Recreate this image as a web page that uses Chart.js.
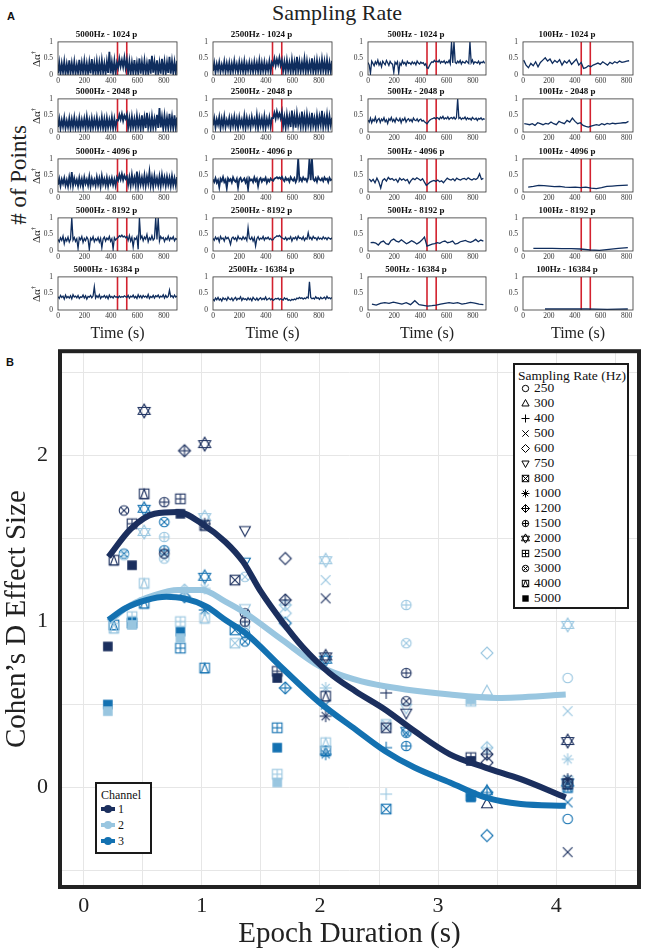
<!DOCTYPE html>
<html lang="en">
<head>
<meta charset="UTF-8">
<title>Sampling rate and epoch duration</title>
<script src="https://cdn.jsdelivr.net/npm/chart.js"></script>
<style>
  body { margin: 0; background: #fff; }
  #fig { position: relative; width: 645px; height: 952px; overflow: hidden; background: #fff;
         font-family: "Liberation Serif", "DejaVu Serif", serif; color: #222; }
  #fig canvas { position: absolute; }
  .lbl { position: absolute; white-space: nowrap; line-height: 1; }
  .ctr { transform: translate(-50%, -50%); }
  .rot { transform: translate(-50%, -50%) rotate(-90deg); }
  .panel { font-family: "Liberation Sans", Arial, sans-serif; font-weight: bold; font-size: 11px; color: #111; }
  .legend { position: absolute; background: #fff; border: 2px solid #1a1a1a; box-sizing: border-box; }
  .legend .lbl { color: #111; }
  sup { font-size: 0.6em; }
</style>
</head>
<body>
<div id="fig">
  <div class="lbl panel ctr" style="left:11px;top:16px">A</div>
  <div class="lbl panel ctr" style="left:10px;top:362px">B</div>
  <div class="lbl ctr" style="left:337px;top:13px;font-size:22px">Sampling Rate</div>
  <div class="lbl rot" style="left:18px;top:175px;font-size:23px"># of Points</div>
  <div class="legend" id="rateLegend" style="left:513px;top:363px;width:116px;height:246px"></div>
  <div class="legend" id="chanLegend" style="left:95px;top:782px;width:57px;height:72px"></div>
</div>

<script>
// ---------- panel A: time series of delta alpha ----------
const panelRates = ['5000Hz', '2500Hz', '500Hz', '100Hz'];
const panelPoints = [1024, 2048, 4096, 8192, 16384];
const eventEdges = [450, 520];
const timeTicks = [0, 200, 400, 600, 800];
const alphaTicks = [0, 0.5, 1];

const s5000_1024 = [0.05,0.38,0.04,0.35,0.08,0.41,0.03,0.33,0.06,0.44,0.05,0.36,0.07,0.40,0.04,0.31,0.06,0.46,0.05,0.37,0.08,0.42,0.04,0.35,0.06,0.39,0.05,0.48,0.07,0.36,0.04,0.41,0.06,0.38,0.05,0.44,0.08,0.35,0.04,0.40,0.06,0.70,0.05,0.39,0.07,0.43,0.05,0.37,0.22,0.49,0.26,0.45,0.24,0.52,0.21,0.46,0.06,0.41,0.04,0.38,0.07,0.45,0.05,0.36,0.06,0.50,0.04,0.39,0.08,0.43,0.05,0.35,0.06,0.47,0.04,0.58,0.07,0.40,0.05,0.44,0.06,0.37,0.04,0.49,0.08,0.41,0.05,0.38,0.06,0.55,0.04,0.42,0.07,0.39,0.05,0.43];
const s2500_1024 = [0.12,0.36,0.08,0.33,0.14,0.38,0.10,0.31,0.13,0.40,0.09,0.35,0.12,0.37,0.07,0.34,0.11,0.42,0.13,0.33,0.09,0.39,0.12,0.36,0.10,0.41,0.08,0.34,0.13,0.38,0.11,0.35,0.09,0.40,0.12,0.36,0.10,0.43,0.08,0.37,0.12,0.39,0.10,0.34,0.13,0.41,0.09,0.38,0.30,0.50,0.28,0.47,0.32,0.52,0.29,0.45,0.12,0.40,0.10,0.44,0.13,0.37,0.09,0.46,0.11,0.39,0.08,0.55,0.12,0.41,0.10,0.38,0.13,0.48,0.09,0.42,0.11,0.37,0.12,0.50,0.10,0.40,0.08,0.44,0.12,0.39,0.10,0.47,0.13,0.41,0.09,0.45,0.11,0.38,0.10,0.43];
const s500_1024 = [0.38,0.30,0.05,0.42,0.35,0.28,0.40,0.33,0.45,0.30,0.38,0.25,0.42,0.36,0.31,0.44,0.37,0.29,0.41,0.35,0.33,0.08,0.39,0.33,0.40,0.06,0.36,0.30,0.43,0.34,0.38,0.29,0.41,0.35,0.37,0.32,0.40,0.34,0.38,0.31,0.42,0.36,0.33,0.39,0.35,0.37,0.30,0.34,0.22,0.20,0.28,0.35,0.40,0.38,0.44,0.40,0.42,0.39,0.45,0.36,0.41,0.38,0.43,0.35,0.40,0.37,0.44,0.34,1.00,0.36,1.00,0.38,0.35,0.42,0.37,0.44,0.33,0.41,0.38,0.36,0.43,0.39,0.35,1.00,0.37,0.45,0.34,0.40,0.38,0.36,0.42,0.33,0.39,0.37,0.41,0.35];
const s100_1024 = [0.45,0.30,0.22,0.35,0.28,0.40,0.25,0.38,0.45,0.52,0.42,0.48,0.35,0.44,0.38,0.46,0.30,0.42,0.36,0.45,0.32,0.40,0.48,0.30,0.38,0.20,0.22,0.28,0.25,0.30,0.33,0.36,0.32,0.40,0.35,0.30,0.38,0.34,0.40,0.36,0.42,0.38,0.40,0.42,0.43];

const s5000_2048 = [0.15,0.40,0.11,0.36,0.16,0.43,0.12,0.34,0.14,0.41,0.10,0.38,0.15,0.44,0.12,0.35,0.13,0.42,0.11,0.37,0.16,0.40,0.12,0.46,0.14,0.36,0.10,0.41,0.13,0.38,0.15,0.43,0.11,0.35,0.14,0.45,0.12,0.39,0.10,0.42,0.13,0.37,0.15,0.44,0.11,0.40,0.14,0.36,0.35,0.52,0.38,0.55,0.34,0.50,0.40,0.53,0.13,0.42,0.11,0.46,0.14,0.39,0.12,0.48,0.15,0.41,0.10,0.50,0.13,0.44,0.12,0.58,0.14,0.42,0.11,0.47,0.13,0.40,0.15,0.52,0.12,0.72,0.14,0.45,0.10,0.49,0.13,0.43,0.12,0.55,0.14,0.46,0.11,0.50,0.13,0.44];
const s2500_2048 = [0.20,0.42,0.14,0.38,0.22,0.45,0.12,0.40,0.18,0.47,0.15,0.36,0.21,0.43,0.13,0.41,0.19,0.46,0.16,0.39,0.12,0.44,0.20,0.37,0.15,0.48,0.13,0.42,0.18,0.40,0.14,0.45,0.21,0.38,0.16,0.50,0.12,0.43,0.19,0.41,0.15,0.47,0.13,0.39,0.20,0.44,0.16,0.42,0.42,0.58,0.40,0.62,0.44,0.56,0.41,0.60,0.18,0.45,0.14,0.52,0.20,0.46,0.15,0.65,0.19,0.48,0.13,0.55,0.21,0.44,0.16,0.62,0.18,0.47,0.14,0.53,0.20,0.45,0.15,0.58,0.19,0.42,0.13,0.50,0.17,0.46,0.21,0.64,0.15,0.44,0.18,0.52,0.14,0.47,0.20,0.43];
const s500_2048 = [0.36,0.30,0.42,0.28,0.38,0.33,0.45,0.30,0.37,0.41,0.29,0.39,0.34,0.43,0.31,0.37,0.26,0.40,0.35,0.44,0.32,0.38,0.30,0.42,0.36,0.33,0.41,0.28,0.39,0.35,0.43,0.30,0.37,0.40,0.33,0.38,0.31,0.42,0.36,0.34,0.40,0.32,0.37,0.39,0.33,0.35,0.31,0.28,0.25,0.30,0.35,0.38,0.40,0.41,0.43,0.40,0.44,0.42,0.38,0.45,0.41,0.47,0.39,0.43,0.40,0.46,0.38,0.42,0.44,0.40,0.45,0.39,0.43,1.00,0.41,0.44,0.38,0.42,0.40,0.45,0.37,0.43,0.39,0.41,0.36,0.44,0.40,0.38,0.42,0.35,0.41,0.39,0.43,0.37,0.40,0.38];
const s100_2048 = [0.25,0.24,0.22,0.25,0.20,0.28,0.25,0.22,0.26,0.24,0.30,0.25,0.22,0.32,0.28,0.25,0.35,0.30,0.42,0.32,0.25,0.28,0.20,0.17,0.15,0.18,0.20,0.22,0.20,0.25,0.22,0.26,0.24,0.27,0.25,0.26,0.27,0.28,0.28,0.32];

const s5000_4096 = [0.22,0.40,0.18,0.38,0.25,0.42,0.20,0.36,0.17,0.45,0.23,0.60,0.19,0.41,0.24,0.37,0.18,0.43,0.21,0.39,0.16,0.44,0.25,0.38,0.20,0.46,0.18,0.40,0.23,0.37,0.19,0.45,0.22,0.41,0.17,0.48,0.24,0.39,0.20,0.43,0.18,0.40,0.25,0.42,0.21,0.38,0.19,0.44,0.35,0.52,0.38,0.55,0.36,0.50,0.40,0.47,0.22,0.45,0.19,0.52,0.24,0.43,0.20,0.62,0.18,0.48,0.23,0.44,0.21,0.50,0.19,0.46,0.25,0.60,0.20,0.45,0.17,0.49,0.23,0.42,0.20,0.47,0.18,0.51,0.24,0.44,0.19,0.46,0.22,0.43,0.18,0.48,0.21,0.42,0.20,0.45];
const s2500_4096 = [0.38,0.30,0.42,0.28,0.36,0.15,0.40,0.33,0.45,0.30,0.37,0.12,0.41,0.34,0.39,0.29,0.44,0.35,0.31,0.40,0.14,0.38,0.43,0.32,0.36,0.41,0.29,0.39,0.10,0.42,0.35,0.38,0.30,0.44,0.33,0.40,0.18,0.37,0.42,0.31,0.39,0.35,0.43,0.28,0.38,0.32,0.41,0.36,0.34,0.40,0.42,0.45,0.41,0.44,0.40,0.46,0.38,0.33,0.43,0.36,0.40,0.31,0.45,0.38,0.34,0.42,0.30,0.39,1.00,0.35,0.41,0.33,0.44,0.37,0.40,0.32,0.43,1.00,0.36,1.00,0.39,0.34,0.42,0.31,0.45,0.38,0.35,0.41,0.33,0.44,0.37,0.40,0.30,0.43,0.36,0.39];
const s500_4096 = [0.40,0.32,0.38,0.28,0.42,0.30,0.12,0.35,0.40,0.33,0.44,0.38,0.41,0.35,0.39,0.30,0.42,0.36,0.40,0.34,0.38,0.26,0.35,0.41,0.37,0.43,0.39,0.35,0.40,0.30,0.20,0.25,0.30,0.33,0.35,0.32,0.36,0.31,0.34,0.28,0.35,0.42,0.38,0.36,0.40,0.34,0.42,0.38,0.36,0.40,0.41,0.37,0.43,0.39,0.36,0.40,0.38,0.42,0.55,0.38,0.41];
const s100_4096 = [0.15,0.17,0.20,0.19,0.18,0.16,0.17,0.15,0.14,0.15,0.13,0.15,0.12,0.10,0.13,0.17,0.18,0.19,0.20,0.21];

const s5000_8192 = [0.35,0.28,0.40,0.32,0.45,0.22,0.38,0.30,0.42,0.27,0.36,1.00,0.33,0.41,0.29,0.37,0.08,0.40,0.34,0.44,0.26,0.38,0.31,0.42,0.35,0.05,0.39,0.33,0.43,0.28,0.37,0.32,0.41,0.27,0.38,0.10,0.36,0.42,0.30,0.39,0.34,0.44,0.29,0.37,0.06,0.40,0.33,0.38,0.41,0.46,0.43,0.48,0.42,0.45,0.40,0.44,0.32,0.47,0.30,0.41,0.12,0.39,0.35,0.43,0.05,1.00,0.38,0.45,0.31,0.42,0.36,0.50,0.28,0.40,0.34,0.46,0.33,0.38,1.00,0.35,1.00,0.30,0.44,0.37,0.41,0.29,0.39,0.34,0.45,0.32,0.40,0.36,0.43,0.31,0.38,0.35];
const s2500_8192 = [0.38,0.32,0.42,0.35,0.40,0.28,0.44,0.36,0.39,0.30,0.43,0.37,0.41,0.33,0.20,0.38,0.42,0.35,0.40,0.31,0.45,0.37,0.39,0.34,0.43,0.36,0.41,0.32,0.70,0.38,0.35,0.42,0.30,0.40,0.15,0.37,0.43,0.34,0.39,0.36,0.44,0.33,0.40,0.37,0.42,0.35,0.38,0.33,0.34,0.40,0.42,0.46,0.44,0.47,0.43,0.40,0.38,0.35,0.41,0.33,0.39,0.36,0.43,0.30,0.40,0.37,0.42,0.34,0.45,0.38,0.40,0.35,0.43,0.32,0.39,0.36,0.55,0.37,0.41,0.34,0.44,0.38,0.40,0.33,0.42,0.36,0.39,0.35,0.43,0.37,0.40,0.34,0.41,0.38,0.36,0.40];
const s500_8192 = [0.25,0.26,0.24,0.18,0.27,0.30,0.22,0.20,0.32,0.36,0.30,0.27,0.34,0.28,0.22,0.26,0.31,0.27,0.21,0.26,0.33,0.42,0.15,0.18,0.21,0.22,0.25,0.23,0.28,0.30,0.25,0.27,0.30,0.21,0.23,0.28,0.30,0.32,0.28,0.26,0.30,0.35,0.28,0.33,0.30];
const s100_8192 = [0.08,0.08,0.08,0.07,0.07,0.06,0.03,0.02,0.05,0.08,0.10];

const s5000_16384 = [0.40,0.35,0.44,0.38,0.42,0.33,0.45,0.37,0.41,0.36,0.43,0.34,0.46,0.39,0.42,0.37,0.44,0.35,0.40,0.38,0.45,0.36,0.43,0.33,0.41,0.39,0.44,0.37,0.42,0.70,0.36,0.43,0.38,0.46,0.35,0.41,0.39,0.44,0.37,0.42,0.34,0.45,0.38,0.41,0.36,0.43,0.39,0.40,0.37,0.42,0.38,0.41,0.39,0.43,0.40,0.38,0.44,0.36,0.42,0.39,0.45,0.37,0.41,0.35,0.46,0.38,0.43,0.36,0.44,0.39,0.42,0.37,0.47,0.35,0.41,0.38,0.44,0.36,0.43,0.40,0.45,0.37,0.42,0.39,0.46,0.36,0.44,0.38,0.41,0.60,0.40,0.43,0.37,0.45,0.39,0.42];
const s2500_16384 = [0.33,0.28,0.36,0.31,0.38,0.30,0.34,0.27,0.37,0.32,0.35,0.29,0.39,0.33,0.31,0.36,0.28,0.34,0.38,0.30,0.35,0.33,0.40,0.29,0.36,0.32,0.34,0.30,0.37,0.31,0.35,0.28,0.38,0.33,0.30,0.36,0.29,0.34,0.37,0.31,0.35,0.32,0.39,0.30,0.33,0.36,0.31,0.34,0.29,0.32,0.35,0.33,0.36,0.31,0.34,0.32,0.30,0.37,0.33,0.35,0.29,0.31,0.28,0.32,0.30,0.33,0.31,0.36,0.34,0.38,0.35,0.37,0.33,0.36,0.34,0.39,0.36,0.85,0.38,0.34,0.36,0.33,0.40,0.35,0.37,0.32,0.38,0.34,0.36,0.39,0.33,0.41,0.35,0.37,0.34,0.38];
const s500_16384 = [0.18,0.15,0.20,0.22,0.20,0.24,0.21,0.18,0.22,0.16,0.28,0.16,0.14,0.12,0.13,0.15,0.18,0.20,0.22,0.20,0.22,0.18,0.20,0.23,0.21,0.18,0.16];
const s100_16384 = [0.03,0.03,0.03,0.02,0.03];

const seriesGrid = [
  [s5000_1024, s2500_1024, s500_1024, s100_1024],
  [s5000_2048, s2500_2048, s500_2048, s100_2048],
  [s5000_4096, s2500_4096, s500_4096, s100_4096],
  [s5000_8192, s2500_8192, s500_8192, s100_8192],
  [s5000_16384, s2500_16384, s500_16384, s100_16384]
];
// first and last time (s) covered by each series
const seriesSpan = [
  [[0, 900], [0, 900], [0, 890], [5, 820]],
  [[0, 900], [0, 900], [0, 890], [10, 815]],
  [[0, 900], [0, 900], [10, 880], [40, 810]],
  [[0, 900], [0, 900], [20, 880], [80, 810]],
  [[0, 900], [0, 900], [30, 880], [170, 810]]
];

// ---------- panel B: Cohen's d vs epoch duration ----------
const rates = [250, 300, 400, 500, 600, 750, 800, 1000, 1200, 1500, 2000, 2500, 3000, 4000, 5000];
const rateMarkers = ['circle', 'triUp', 'plus', 'cross', 'diamond', 'triDown', 'boxCross', 'asterisk',
                     'diamondPlus', 'circlePlus', 'hexagram', 'boxPlus', 'circleCross', 'boxTri', 'square'];
const channelNames = ['1', '2', '3'];
const xGrid = [0, 0.5, 1, 1.5, 2, 2.5, 3, 3.5, 4, 4.5];
const yGrid = [-0.5, 0, 0.5, 1, 1.5, 2, 2.5];

// [sampling rate, epoch duration (s), effect size]
const ch1Effects = [
  [5000,0.2048,0.85],[5000,0.4096,1.34],[5000,0.8192,1.65],[5000,1.6384,0.66],[5000,3.2768,0.16],
  [4000,0.256,1.37],[4000,0.512,1.77],[4000,1.024,1.58],[4000,2.048,0.55],[4000,4.096,0.02],
  [3000,0.3413,1.67],[3000,0.6827,1.41],[3000,1.3653,1.05],[3000,2.7307,0.52],
  [2500,0.4096,1.59],[2500,0.8192,1.74],[2500,1.6384,0.70],[2500,3.2768,0.18],
  [2000,0.512,2.27],[2000,1.024,2.07],[2000,2.048,0.79],[2000,4.096,0.28],
  [1500,0.6827,1.72],[1500,1.3653,1.00],[1500,2.7307,0.69],
  [1200,0.8533,2.03],[1200,1.7067,1.13],[1200,3.4133,0.20],
  [1000,1.024,1.59],[1000,2.048,0.43],[1000,4.096,0.05],
  [800,1.28,1.25],[800,2.56,0.36],
  [750,1.3653,1.55],[750,2.7307,0.45],
  [600,1.7067,1.38],[600,3.4133,0.15],
  [500,2.048,1.14],[500,4.096,-0.39],
  [400,2.56,0.57],
  [300,3.4133,-0.10],
  [250,4.096,0.03]
];
const ch2Effects = [
  [5000,0.2048,0.46],[5000,0.4096,0.98],[5000,0.8192,0.90],[5000,1.6384,0.03],[5000,3.2768,0.53],
  [4000,0.256,0.96],[4000,0.512,1.23],[4000,1.024,1.02],[4000,2.048,0.27],[4000,4.096,0.04],
  [3000,0.3413,1.40],[3000,0.6827,1.38],[3000,1.3653,1.27],[3000,2.7307,0.87],
  [2500,0.4096,1.03],[2500,0.8192,1.00],[2500,1.6384,0.08],[2500,3.2768,0.52],
  [2000,0.512,1.54],[2000,1.024,1.63],[2000,2.048,1.37],[2000,4.096,0.98],
  [1500,0.6827,1.51],[1500,1.3653,0.97],[1500,2.7307,1.10],
  [1200,0.8533,1.19],[1200,1.7067,1.10],[1200,3.4133,0.24],
  [1000,1.024,1.20],[1000,2.048,0.60],[1000,4.096,0.17],
  [800,1.28,0.87],[800,2.56,0.38],
  [750,1.3653,1.08],[750,2.7307,0.48],
  [600,1.7067,1.05],[600,3.4133,0.81],
  [500,2.048,1.25],[500,4.096,0.46],
  [400,2.56,-0.04],
  [300,3.4133,0.58],
  [250,4.096,0.66]
];
const ch3Effects = [
  [5000,0.2048,0.50],[5000,0.4096,1.00],[5000,0.8192,0.94],[5000,1.6384,0.24],[5000,3.2768,-0.06],
  [4000,0.256,0.98],[4000,0.512,1.11],[4000,1.024,0.72],[4000,2.048,0.22],[4000,4.096,0.00],
  [3000,0.3413,1.41],[3000,0.6827,1.60],[3000,1.3653,0.88],[3000,2.7307,0.33],
  [2500,0.4096,0.99],[2500,0.8192,0.84],[2500,1.6384,0.36],[2500,3.2768,-0.05],
  [2000,0.512,1.68],[2000,1.024,1.27],[2000,2.048,0.77],[2000,4.096,0.03],
  [1500,0.6827,1.43],[1500,1.3653,0.93],[1500,2.7307,0.25],
  [1200,0.8533,1.15],[1200,1.7067,0.60],[1200,3.4133,-0.03],
  [1000,1.024,1.07],[1000,2.048,0.20],[1000,4.096,0.01],
  [800,1.28,0.95],[800,2.56,-0.13],
  [750,1.3653,1.36],[750,2.7307,0.34],
  [600,1.7067,0.99],[600,3.4133,-0.29],
  [500,2.048,0.50],[500,4.096,-0.09],
  [400,2.56,0.24],
  [300,3.4133,-0.02],
  [250,4.096,-0.19]
];

// smoothed trend per channel: [epoch duration, effect size]
const ch1Trend = [[0.21,1.39],[0.4,1.56],[0.6,1.65],[0.8,1.66],[1.0,1.59],[1.2,1.48],[1.35,1.36],[1.5,1.18],[1.68,1.0],[1.85,0.85],[2.08,0.69],[2.3,0.58],[2.55,0.47],[2.8,0.34],[3.1,0.2],[3.4,0.12],[3.7,0.05],[4.08,-0.06]];
const ch2Trend = [[0.21,1.0],[0.4,1.1],[0.6,1.16],[0.8,1.19],[1.0,1.19],[1.2,1.12],[1.37,1.05],[1.68,0.89],[2.0,0.73],[2.3,0.65],[2.55,0.61],[3.1,0.56],[3.5,0.54],[4.08,0.56]];
const ch3Trend = [[0.21,1.01],[0.35,1.08],[0.53,1.13],[0.7,1.15],[0.85,1.14],[1.04,1.09],[1.2,1.01],[1.37,0.93],[1.68,0.72],[2.0,0.51],[2.3,0.35],[2.55,0.22],[2.8,0.12],[3.1,0.03],[3.4,-0.06],[3.7,-0.1],[4.08,-0.11]];

// ---------- styling ----------
const SERIF = '"Liberation Serif", "DejaVu Serif", serif';
const NAVY = '#0f2d5e';
const EVENT_RED = '#d3222f';
const channelColors = ['#1b2f5e', '#99c6e0', '#1371b1'];

Chart.defaults.font.family = SERIF;
const fig = document.getElementById('fig');

// thin box around the small plots
const boxPlugin = {
  id: 'box',
  afterDraw(chart) {
    const { ctx, chartArea: a } = chart;
    ctx.save();
    ctx.strokeStyle = '#333';
    ctx.lineWidth = 0.8;
    ctx.strokeRect(a.left, a.top, a.right - a.left, a.bottom - a.top);
    ctx.restore();
  }
};

// heavy frame round panel B
const framePlugin = {
  id: 'frame',
  afterDraw(chart) {
    const { ctx, chartArea: a } = chart;
    ctx.save();
    ctx.strokeStyle = '#222';
    ctx.lineWidth = 4;
    ctx.strokeRect(a.left, a.top, a.right - a.left, a.bottom - a.top);
    ctx.restore();
  }
};

function addLabel(text, x, y, size, cls) {
  const d = document.createElement('div');
  d.className = 'lbl ' + (cls || 'ctr');
  d.style.left = x + 'px';
  d.style.top = y + 'px';
  d.style.fontSize = size + 'px';
  d.innerHTML = text;
  fig.appendChild(d);
  return d;
}

// small plots grid
const colLeft = [58, 213, 368, 523];
const colWidth = [119, 119, 118, 110];
const colMax = [900, 900, 900, 850];
const rowTop = [42, 99, 159, 218, 277];
const rowHeight = 33;
const ML = 22, MR = 8, MT = 12, MB = 11;

function miniChart(r, c) {
  const cv = document.createElement('canvas');
  const w = colWidth[c] + ML + MR, h = rowHeight + MT + MB;
  cv.width = w; cv.height = h;
  cv.style.left = (colLeft[c] - ML) + 'px';
  cv.style.top = (rowTop[r] - MT) + 'px';
  cv.style.width = w + 'px';
  cv.style.height = h + 'px';
  fig.appendChild(cv);

  const vals = seriesGrid[r][c];
  const [t0, t1] = seriesSpan[r][c];
  const step = (t1 - t0) / (vals.length - 1);
  const pts = vals.map((v, i) => ({ x: t0 + i * step, y: v }));
  const edges = eventEdges.map(t => ({
    data: [{ x: t, y: 0 }, { x: t, y: 1 }],
    borderColor: EVENT_RED, borderWidth: 1.6, pointRadius: 0
  }));
  // the fast-rate short-epoch traces read as a solid band
  const band = c < 2 && r < 3;

  new Chart(cv, {
    type: 'line',
    data: {
      datasets: [
        { data: pts, borderColor: NAVY, borderWidth: band ? 1.8 : 1.3, pointRadius: 0, tension: 0 },
        ...edges
      ]
    },
    options: {
      responsive: false,
      animation: false,
      events: [],
      layout: { padding: { left: 0, right: MR, top: 0, bottom: 0 } },
      plugins: {
        legend: { display: false },
        tooltip: { enabled: false },
        title: {
          display: true,
          text: panelRates[c] + ' - ' + panelPoints[r] + ' p',
          color: '#111',
          font: { family: SERIF, size: 9, weight: 'bold', lineHeight: 1.1 },
          padding: { top: 0, bottom: 2 }
        }
      },
      scales: {
        x: {
          type: 'linear', min: 0, max: colMax[c],
          afterBuildTicks: s => { s.ticks = timeTicks.map(v => ({ value: v })); },
          afterFit: s => { s.height = MB; },
          ticks: { font: { family: SERIF, size: 7.5 }, color: '#333', padding: 2, maxRotation: 0, autoSkip: false },
          grid: { display: false, drawTicks: false },
          border: { display: false }
        },
        y: {
          min: 0, max: 1,
          afterBuildTicks: s => { s.ticks = alphaTicks.map(v => ({ value: v })); },
          afterFit: s => { s.width = ML; },
          ticks: { font: { family: SERIF, size: 7.5 }, color: '#333', padding: 5, callback: v => String(v) },
          grid: { display: false, drawTicks: false },
          border: { display: false }
        }
      }
    },
    plugins: [boxPlugin]
  });
}

for (let r = 0; r < panelPoints.length; r++) {
  for (let c = 0; c < panelRates.length; c++) miniChart(r, c);
  addLabel('Δα<sup>†</sup>', 36, rowTop[r] + rowHeight / 2, 11, 'rot');
}
colLeft.forEach((x, c) => addLabel('Time (s)', x + colWidth[c] / 2, 333, 16));

// ---------- marker icons ----------
function makeIcon(shape, color, r, lw) {
  const S = Math.ceil(r * 2.4 + lw + 4);
  const cv = document.createElement('canvas');
  cv.width = S; cv.height = S;
  const g = cv.getContext('2d');
  g.translate(S / 2, S / 2);
  g.strokeStyle = color; g.fillStyle = color; g.lineWidth = lw;
  const poly = p => { g.beginPath(); p.forEach(([x, y], i) => i ? g.lineTo(x, y) : g.moveTo(x, y)); g.closePath(); g.stroke(); };
  const seg = (x1, y1, x2, y2) => { g.beginPath(); g.moveTo(x1, y1); g.lineTo(x2, y2); g.stroke(); };
  const ring = rr => { g.beginPath(); g.arc(0, 0, rr, 0, Math.PI * 2); g.stroke(); };
  const b = r * 0.8;
  const c = r * 0.8 * 0.7;
  switch (shape) {
    case 'circle': ring(r * 0.8); break;
    case 'triUp': poly([[0, -r], [r * 0.9, r * 0.62], [-r * 0.9, r * 0.62]]); break;
    case 'triDown': poly([[0, r], [r * 0.9, -r * 0.62], [-r * 0.9, -r * 0.62]]); break;
    case 'plus': seg(-r, 0, r, 0); seg(0, -r, 0, r); break;
    case 'cross': seg(-b, -b, b, b); seg(-b, b, b, -b); break;
    case 'diamond': poly([[0, -r], [r, 0], [0, r], [-r, 0]]); break;
    case 'boxCross': g.strokeRect(-b, -b, 2 * b, 2 * b); seg(-b, -b, b, b); seg(-b, b, b, -b); break;
    case 'asterisk': seg(-r, 0, r, 0); seg(0, -r, 0, r); seg(-c * 1.2, -c * 1.2, c * 1.2, c * 1.2); seg(-c * 1.2, c * 1.2, c * 1.2, -c * 1.2); break;
    case 'diamondPlus': poly([[0, -r], [r, 0], [0, r], [-r, 0]]); seg(-r, 0, r, 0); seg(0, -r, 0, r); break;
    case 'circlePlus': ring(r * 0.8); seg(-r * 0.8, 0, r * 0.8, 0); seg(0, -r * 0.8, 0, r * 0.8); break;
    case 'circleCross': ring(r * 0.8); seg(-c, -c, c, c); seg(-c, c, c, -c); break;
    case 'hexagram': {
      const h = r * 1.15;
      poly([[0, -h], [h * 0.87, h * 0.5], [-h * 0.87, h * 0.5]]);
      poly([[0, h], [h * 0.87, -h * 0.5], [-h * 0.87, -h * 0.5]]);
      break;
    }
    case 'boxPlus': g.strokeRect(-b, -b, 2 * b, 2 * b); seg(-b, 0, b, 0); seg(0, -b, 0, b); break;
    case 'boxTri': g.strokeRect(-b, -b, 2 * b, 2 * b); poly([[0, -b], [b * 0.75, b], [-b * 0.75, b]]); break;
    case 'square': g.fillRect(-b, -b, 2 * b, 2 * b); break;
  }
  return cv;
}

const plotIcons = channelColors.map(col => {
  const m = {};
  rates.forEach((rate, i) => { m[rate] = makeIcon(rateMarkers[i], col, 6, 1.1); });
  return m;
});

// ---------- panel B chart ----------
const cvB = document.createElement('canvas');
cvB.width = 645; cvB.height = 626;
cvB.style.left = '0px'; cvB.style.top = '326px';
cvB.style.width = '645px'; cvB.style.height = '626px';
fig.insertBefore(cvB, document.getElementById('rateLegend'));

const effectSets = [ch1Effects, ch2Effects, ch3Effects];
const trendSets = [ch1Trend, ch2Trend, ch3Trend];
const trendOrder = [2, 3, 1];

const markerDatasets = effectSets.map((rows, k) => ({
  type: 'scatter',
  data: rows.map(([rate, dur, eff]) => ({ x: dur, y: eff, rate: rate })),
  pointStyle: ctx => plotIcons[k][ctx.raw.rate],
  pointRadius: 5,
  order: 10 + k
}));
const trendDatasets = trendSets.map((rows, k) => ({
  type: 'line',
  data: rows.map(([dur, eff]) => ({ x: dur, y: eff })),
  borderColor: channelColors[k],
  borderWidth: 6,
  pointRadius: 0,
  cubicInterpolationMode: 'monotone',
  borderCapStyle: 'butt',
  order: trendOrder[k]
}));

new Chart(cvB, {
  type: 'scatter',
  data: { datasets: [...markerDatasets, ...trendDatasets] },
  options: {
    responsive: false,
    animation: false,
    events: [],
    layout: { padding: { top: 0, right: 4, left: 0, bottom: 0 } },
    plugins: { legend: { display: false }, tooltip: { enabled: false } },
    scales: {
      x: {
        type: 'linear', min: -0.2, max: 4.7,
        afterBuildTicks: s => { s.ticks = xGrid.map(v => ({ value: v })); },
        afterFit: s => { s.height = 65; },
        ticks: { callback: v => Number.isInteger(v) ? String(v) : '', font: { family: SERIF, size: 22 }, color: '#222', padding: 6, maxRotation: 0, autoSkip: false },
        grid: { color: '#e6e6e6', lineWidth: 1, drawTicks: false },
        border: { display: false },
        title: { display: true, text: 'Epoch Duration (s)', color: '#222', font: { family: SERIF, size: 29 }, padding: 0 }
      },
      y: {
        type: 'linear', min: -0.6, max: 2.63,
        afterBuildTicks: s => { s.ticks = yGrid.map(v => ({ value: v })); },
        afterFit: s => { s.width = 60; },
        ticks: { callback: v => Number.isInteger(v) ? String(v) : '', font: { family: SERIF, size: 22 }, color: '#222', padding: 12, autoSkip: false },
        grid: { color: '#e6e6e6', lineWidth: 1, drawTicks: false },
        border: { display: false },
        title: { display: true, text: 'Cohen’s D Effect Size', color: '#222', font: { family: SERIF, size: 29 }, padding: 0 }
      }
    }
  },
  plugins: [framePlugin]
});

// ---------- legends ----------
const rateLegend = document.getElementById('rateLegend');
const lt = document.createElement('div');
lt.className = 'lbl';
lt.style.left = '3px'; lt.style.top = '4px'; lt.style.fontSize = '13.5px';
lt.textContent = 'Sampling Rate (Hz)';
rateLegend.appendChild(lt);
rates.forEach((rate, i) => {
  const cy = 23 + i * 15;
  const ic = makeIcon(rateMarkers[i], '#000', 4, 1);
  ic.style.left = (10 - ic.width / 2) + 'px';
  ic.style.top = (cy - ic.height / 2) + 'px';
  ic.style.position = 'absolute';
  rateLegend.appendChild(ic);
  const t = document.createElement('div');
  t.className = 'lbl';
  t.style.left = '19px';
  t.style.top = (cy - 7) + 'px';
  t.style.fontSize = '13.5px';
  t.textContent = rate;
  rateLegend.appendChild(t);
});

const chanLegend = document.getElementById('chanLegend');
const ct = document.createElement('div');
ct.className = 'lbl';
ct.style.left = '4px'; ct.style.top = '5px'; ct.style.fontSize = '12px';
ct.textContent = 'Channel';
chanLegend.appendChild(ct);
channelNames.forEach((name, k) => {
  const cy = 25 + k * 16;
  const ic = document.createElement('canvas');
  ic.width = 16; ic.height = 10;
  const g = ic.getContext('2d');
  g.strokeStyle = channelColors[k]; g.fillStyle = channelColors[k];
  g.lineWidth = 4;
  g.beginPath(); g.moveTo(1, 5); g.lineTo(15, 5); g.stroke();
  g.beginPath(); g.arc(8, 5, 4, 0, Math.PI * 2); g.fill();
  ic.style.position = 'absolute';
  ic.style.left = '3px';
  ic.style.top = (cy - 5) + 'px';
  chanLegend.appendChild(ic);
  const t = document.createElement('div');
  t.className = 'lbl';
  t.style.left = '21px';
  t.style.top = (cy - 6) + 'px';
  t.style.fontSize = '12px';
  t.textContent = name;
  chanLegend.appendChild(t);
});
</script>
</body>
</html>
